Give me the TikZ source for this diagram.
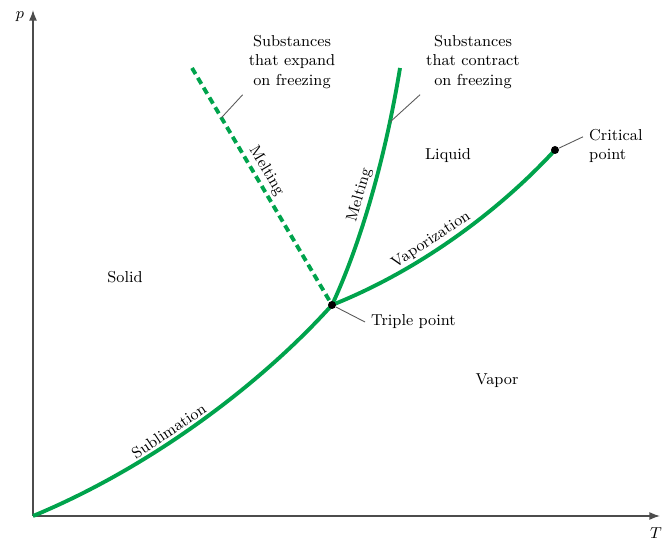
\documentclass[tikz,border=0pt]{standalone}
\usepackage{tikz}
\usetikzlibrary{arrows.meta,positioning,calc}
\definecolor{phasegreen}{RGB}{0,163,76}

\begin{document}
\begin{tikzpicture}[
    font=\small,
    axis/.style={line width=0.8pt, draw=black!70, -{Latex[length=6pt,width=4.5pt]}},
    phase/.style={line width=2.2pt, draw=phasegreen},
    phasedash/.style={phase, dash pattern=on 4pt off 2.5pt},
    leader/.style={draw=black!65, line width=0.5pt},
    pointdot/.style={circle, fill=black, inner sep=0pt, minimum size=0.16cm},
    curvelabel/.style={sloped, above, inner sep=1.5pt},
    note/.style={align=center}
]
    \useasboundingbox (0,0) rectangle (13.28,10.8);

    % Axes
    \coordinate (O) at (0.66,0.48);
    \coordinate (ptop) at (0.66,10.6);
    \coordinate (tend) at (13.2,0.48);
    \draw[axis] (O) -- (ptop);
    \draw[axis] (O) -- (tend);
    \node (plabel) at (0.4,10.46) {$p$};
    \node (tlabel) at (13.12,0.14) {$T$};

    % Key points
    \coordinate (tp) at (6.64,4.7);
    \coordinate (cp) at (11.1,7.8);
    \coordinate (meltup) at (8.0,9.44);
    \coordinate (meltdash) at (3.84,9.44);

    % Phase boundaries
    \draw[phase] (O) .. controls (3.0,1.45) and (5.2,3.1) .. node[curvelabel, pos=0.42] {Sublimation} (tp);
    \draw[phase] (tp) .. controls (8.4,5.4) and (10.0,6.6) .. node[curvelabel, pos=0.42] {Vaporization} (cp);
    \draw[phase] (tp) .. controls (7.2,5.9) and (7.7,7.6) .. node[curvelabel, pos=0.5] {Melting} coordinate[pos=0.8] (contractpt) (meltup);
    \draw[phasedash] (meltdash) -- coordinate[pos=0.21] (expandpt) node[curvelabel, pos=0.46] {Melting} (tp);

    % Triple and critical points
    \node[pointdot] (tpdot) at (tp) {};
    \node[pointdot] (cpdot) at (cp) {};

    % Regions
    \node (solid) at (2.5,5.26) {Solid};
    \node (liquid) at (8.96,7.68) {Liquid};
    \node (vapor) at (9.94,3.18) {Vapor};

    % Notes with leaders
    \node[note] (expand) at (5.84,9.56) {Substances\\that expand\\on freezing};
    \node[note] (contract) at (9.46,9.56) {Substances\\that contract\\on freezing};
    \node[anchor=west] (tptext) at (7.3,4.36) {Triple point};
    \node[anchor=west, align=left] (cptext) at (11.66,7.88) {Critical\\point};

    \draw[leader] (expandpt) -- (expand.south west);
    \draw[leader] (contractpt) -- (contract.south west);
    \draw[leader] (tpdot) -- (tptext.west);
    \draw[leader] (cpdot) -- ($(cptext.north west)!0.3!(cptext.south west)$);

\end{tikzpicture}
\end{document}
